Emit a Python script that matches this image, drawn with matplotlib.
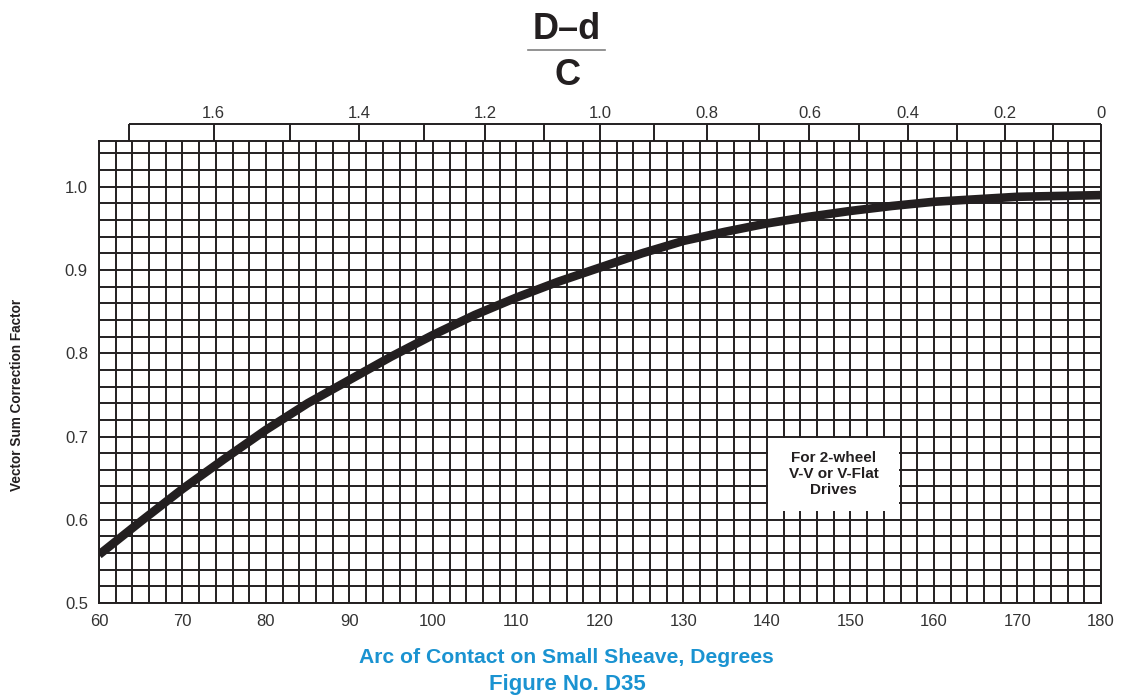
import numpy as np
import matplotlib
matplotlib.use("Agg")
import matplotlib.pyplot as plt
from matplotlib.patches import Rectangle

# curve: arc of contact (deg) vs correction factor
arc_deg = [60, 65, 70, 75, 80, 85, 90, 95, 100, 105, 110, 115, 120,
           125, 130, 135, 140, 145, 150, 155, 160, 165, 170, 175, 180]
factor = [0.558, 0.598, 0.637, 0.673, 0.708, 0.740, 0.768, 0.796, 0.822,
          0.846, 0.867, 0.886, 0.903, 0.920, 0.935, 0.946, 0.956, 0.964,
          0.971, 0.977, 0.982, 0.985, 0.988, 0.989, 0.990]

x_ticks = list(range(60, 181, 10))
y_ticks = [0.5, 0.6, 0.7, 0.8, 0.9, 1.0]
ratio_lines = [1.7, 1.6, 1.5, 1.4, 1.3, 1.2, 1.1, 1.0, 0.9, 0.8, 0.7,
               0.6, 0.5, 0.4, 0.3, 0.2, 0.1, 0.0]
ratio_labels = [1.6, 1.4, 1.2, 1.0, 0.8, 0.6, 0.4, 0.2, 0.0]
note = "For 2-wheel\nV-V or V-Flat\nDrives"

INK = "#231f20"
BLUE = "#1a93d1"
plt.rcParams["font.family"] = ["Liberation Sans", "DejaVu Sans"]


def ratio_to_arc(r):
    # arc of contact for a given (D-d)/C
    return 2 * np.degrees(np.arccos(np.asarray(r) / 2))


def main():
    fig = plt.figure(figsize=(11.3, 6.96), dpi=100)
    ax = fig.add_axes([0.0876, 0.1336, 0.8867, 0.6638])

    ax.set_xlim(60, 180)
    ax.set_ylim(0.5, 1.055)
    ax.set_xticks(x_ticks)
    ax.set_xticks(np.arange(60, 181, 2), minor=True)
    ax.set_yticks(y_ticks)
    ax.set_yticks(np.arange(0.5, 1.045, 0.02), minor=True)
    ax.set_yticklabels([f"{v:.1f}" for v in y_ticks])
    ax.tick_params(which="both", length=0, labelsize=12, colors="#333333", pad=8)
    ax.grid(which="both", color=INK, lw=1.4)
    ax.set_axisbelow(True)
    for s in ax.spines.values():
        s.set_linewidth(1.4)
        s.set_color(INK)

    ax.plot(arc_deg, factor, color=INK, lw=6.2, solid_capstyle="butt", zorder=4)

    # white note box over the grid
    ax.add_patch(Rectangle((140.15, 0.61), 15.7, 0.0885, facecolor="white",
                           edgecolor="none", zorder=2))
    ax.text(148, 0.655, note, ha="center", va="center", fontsize=11,
            fontweight="bold", color=INK, linespacing=1.22, zorder=3)

    # top (D-d)/C scale box
    tax = fig.add_axes([0.0876, 0.7974, 0.8867, 0.0244])
    tax.set_xlim(60, 180)
    tax.set_ylim(0, 1)
    for s in tax.spines.values():
        s.set_visible(False)
    tax.set_yticks([])
    tax.vlines(ratio_to_arc(ratio_lines), 0, 1, color=INK, lw=1.4, clip_on=False)
    tax.hlines(1, ratio_to_arc(max(ratio_lines)), 180, color=INK, lw=1.4,
               clip_on=False)
    tax.xaxis.tick_top()
    tax.set_xticks(ratio_to_arc(ratio_labels))
    tax.set_xticklabels([f"{r:.1f}" if r > 0 else "0" for r in ratio_labels])
    tax.tick_params(length=0, labelsize=12, colors="#333333", pad=2)
    tax.patch.set_alpha(0)

    # fraction heading
    fig.text(0.5018, 0.957, "D\u2013d", ha="center", va="center",
             fontsize=26, fontweight="bold", color=INK)
    fig.add_artist(plt.Line2D([0.467, 0.535], [0.928, 0.928], color="#808080", lw=1.2))
    fig.text(0.5018, 0.891, "C", ha="center", va="center",
             fontsize=26, fontweight="bold", color=INK)

    fig.text(0.015, 0.432, "Vector Sum Correction Factor", rotation=90,
             ha="center", va="center", fontsize=9.8, fontweight="bold", color=INK)
    fig.text(0.501, 0.056, "Arc of Contact on Small Sheave, Degrees",
             ha="center", va="center", fontsize=15.2, fontweight="bold", color=BLUE)
    fig.text(0.502, 0.017, "Figure No. D35", ha="center", va="center",
             fontsize=16, fontweight="bold", color=BLUE)

    fig.savefig("out.png", dpi=100)


if __name__ == "__main__":
    main()
